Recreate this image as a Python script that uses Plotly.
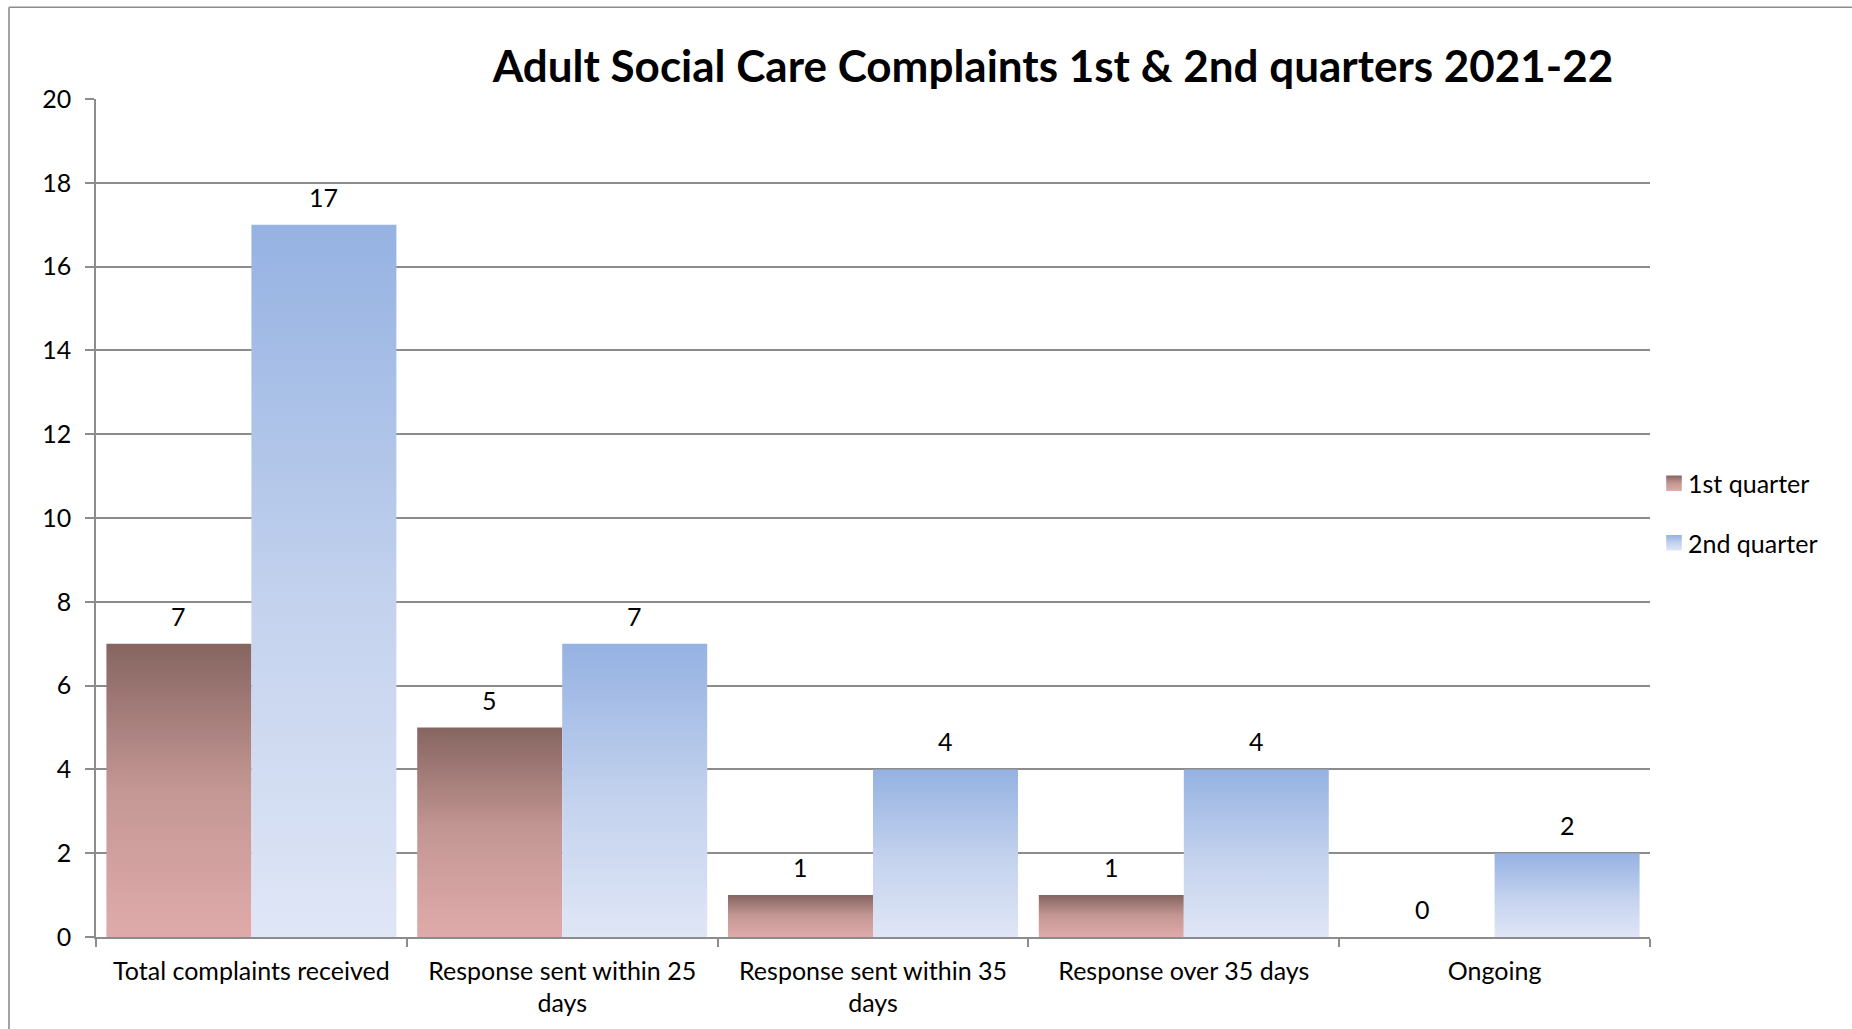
import plotly.graph_objects as go

# Chart data
categories = [
    "Total complaints received",
    "Response sent within 25<br>days",
    "Response sent within 35<br>days",
    "Response over 35 days",
    "Ongoing",
]
series_names = ["1st quarter", "2nd quarter"]
q1_values = [7, 5, 1, 1, 0]
q2_values = [17, 7, 4, 4, 2]
y_ticks = [0, 2, 4, 6, 8, 10, 12, 14, 16, 18, 20]
title_text = "Adult Social Care Complaints 1st & 2nd quarters 2021-22"

FONT = "Lato, 'Open Sans', sans-serif"
GRID = "#8c8c8c"
BARGAP = 0.067
W, H = 1852, 1029
ML, MR, MT, MB = 96, 202, 99, 90
PW, PH = W - ML - MR, H - MT - MB
TXT = 25

fig = go.Figure()
base_colors = ["#b98a88", "#b9cbec"]
for name, vals, col in zip(series_names, [q1_values, q2_values], base_colors):
    fig.add_trace(go.Bar(
        name=name, x=categories, y=vals,
        marker=dict(color=col, line=dict(width=0)),
        legendgroup=name,
    ))

# value labels above each bar
half = (1 - BARGAP) / 4
annotations = []
for k, vals in enumerate([q1_values, q2_values]):
    off = -half if k == 0 else half
    for i, v in enumerate(vals):
        annotations.append(dict(
            x=i + off, y=v, xref="x", yref="y", text=str(v),
            showarrow=False, yanchor="bottom", yshift=11,
            font=dict(family=FONT, size=TXT, color="#000000"),
        ))


def px_x(p):
    return (p - ML) / PW


def px_y(p):
    return (MT + PH - p) / PH


# outer frame of the chart object (left and top edges)
shapes = [
    dict(type="line", xref="paper", yref="paper",
         x0=px_x(9), x1=px_x(9), y0=px_y(1060), y1=px_y(7),
         line=dict(color=GRID, width=1.6)),
    dict(type="line", xref="paper", yref="paper",
         x0=px_x(9), x1=px_x(1880), y0=px_y(7), y1=px_y(7),
         line=dict(color=GRID, width=1.6)),
]

fig.update_layout(
    width=W, height=H,
    margin=dict(l=ML, r=MR, t=MT, b=MB, pad=0),
    paper_bgcolor="white", plot_bgcolor="white",
    barmode="group", bargap=BARGAP, bargroupgap=0,
    hovermode=False,
    font=dict(family=FONT, size=TXT, color="#000000"),
    title=dict(
        text=title_text, xref="container", yref="container",
        x=1053 / W, y=1 - 67 / H, xanchor="center", yanchor="middle",
        font=dict(family=FONT, size=44, color="#000000", weight="bold"),
    ),
    legend=dict(
        x=px_x(1648), y=px_y(514), xanchor="left", yanchor="middle",
        font=dict(family=FONT, size=TXT, color="#000000"),
        traceorder="grouped", tracegroupgap=24,
        bgcolor="rgba(0,0,0,0)", borderwidth=0,
    ),
    annotations=annotations,
    shapes=shapes,
)

fig.update_xaxes(
    type="category", showgrid=False, showline=True, linecolor=GRID, linewidth=1.6,
    ticks="outside", tickson="boundaries", ticklen=8, tickcolor=GRID, tickwidth=1.6,
    tickfont=dict(family=FONT, size=TXT, color="#000000"), ticklabelstandoff=11,
    fixedrange=True,
)
fig.update_yaxes(
    range=[0, 20], tickvals=y_ticks, ticktext=[str(t) for t in y_ticks],
    showgrid=True, gridcolor=GRID, gridwidth=1.6,
    showline=True, linecolor=GRID, linewidth=1.6,
    ticks="outside", ticklen=9, tickcolor=GRID, tickwidth=1.6,
    tickfont=dict(family=FONT, size=TXT, color="#000000"), ticklabelstandoff=9,
    zeroline=False, fixedrange=True,
)

# vertical gradient fills for the bars and legend swatches
post_js = """
(function(){
  var gd = document.getElementById('{plot_id}');
  var NS = 'http://www.w3.org/2000/svg';
  var grads = [
    [[0,'#866561'],[0.5,'#C49794'],[1,'#DFABAA']],
    [[0,'#95B2E2'],[0.55,'#C5D3EE'],[1,'#DFE6F6']]
  ];
  function ensureDefs(){
    var svg = gd.querySelector('svg.main-svg');
    var defs = svg.querySelector('defs');
    if(!defs){ defs = document.createElementNS(NS,'defs'); svg.insertBefore(defs, svg.firstChild); }
    grads.forEach(function(stops, i){
      var id = 'bargrad' + i;
      if(document.getElementById(id)) return;
      var lg = document.createElementNS(NS,'linearGradient');
      lg.setAttribute('id', id);
      lg.setAttribute('x1','0'); lg.setAttribute('y1','0');
      lg.setAttribute('x2','0'); lg.setAttribute('y2','1');
      stops.forEach(function(s){
        var st = document.createElementNS(NS,'stop');
        st.setAttribute('offset', s[0]);
        st.setAttribute('stop-color', s[1]);
        lg.appendChild(st);
      });
      defs.appendChild(lg);
    });
  }
  function apply(){
    ensureDefs();
    gd.querySelectorAll('.barlayer .trace.bars').forEach(function(tr, i){
      tr.querySelectorAll('.point path').forEach(function(p){ p.style.fill = 'url(#bargrad' + i + ')'; });
    });
    gd.querySelectorAll('.legend .traces').forEach(function(tr, i){
      tr.querySelectorAll('.legendpoints path').forEach(function(p){
        p.style.fill = 'url(#bargrad' + i + ')';
        if(p.dataset.t0 === undefined){ p.dataset.t0 = p.getAttribute('transform') || ''; }
        p.setAttribute('transform', p.dataset.t0 + ' translate(6,0) scale(1.3)');
      });
    });
  }
  apply();
  gd.on('plotly_afterplot', apply);
})();
"""

fig.write_html("out.html", post_script=post_js, config={"displayModeBar": False})
